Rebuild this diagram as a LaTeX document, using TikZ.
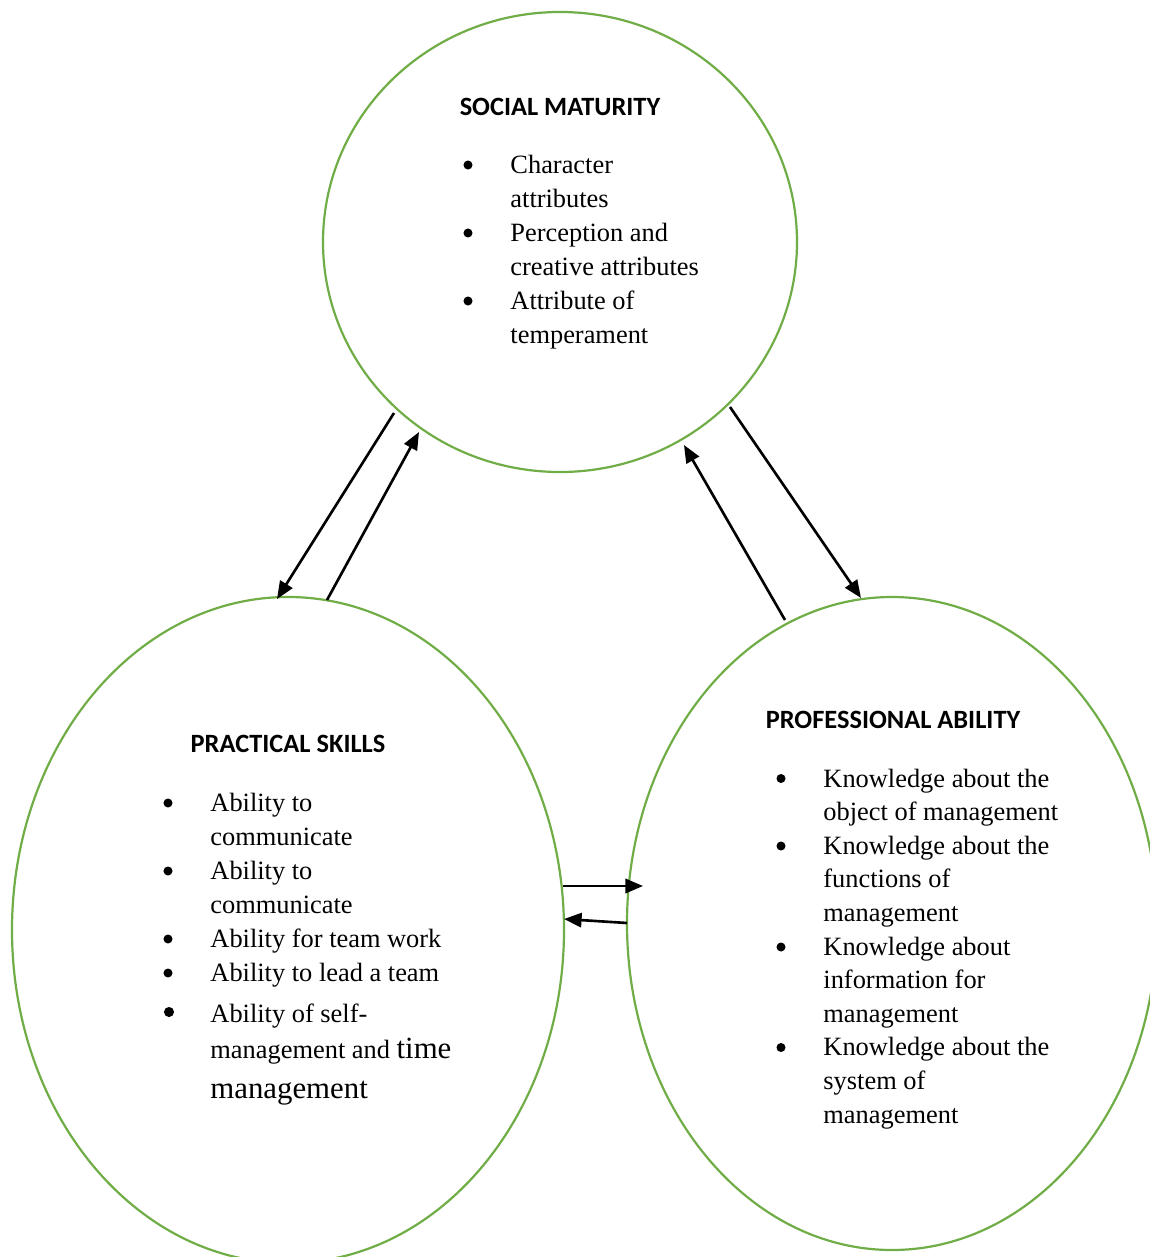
\documentclass[tikz,border=0pt]{standalone}
\usepackage{fontspec}
\setmainfont{Liberation Serif}
\newfontfamily\headfont{Carlito}
\usetikzlibrary{arrows.meta,shapes.geometric}
\definecolor{ringgreen}{RGB}{112,173,71}
\begin{document}
\begin{tikzpicture}[x=0.4545pt,y=-0.4545pt,
  ring/.style={ellipse,draw=ringgreen,line width=1pt,inner sep=0pt},
  head/.style={font=\headfont\bfseries\fontsize{12}{14}\selectfont,inner sep=0pt,anchor=base},
  item/.style={font=\fontsize{12}{14}\selectfont,inner sep=0pt,anchor=base west},
  dot/.style={circle,fill=black,inner sep=0pt,minimum size=4.1pt},
  bigdot/.style={circle,fill=black,inner sep=0pt,minimum size=4.6pt},
  link/.style={line width=1.2pt,-{Triangle[length=8pt,width=6.5pt]}}]
\useasboundingbox (0,0) rectangle (1150,1257);

% rings
\node[ring,minimum width={474*0.4545pt},minimum height={460*0.4545pt}] (social) at (560,242) {};
\node[ring,minimum width={552*0.4545pt},minimum height={666*0.4545pt}] (practical) at (288,930) {};
\node[ring,minimum width={530*0.4545pt},minimum height={653*0.4545pt}] (professional) at (892,923.5) {};

% social maturity
\node[head] (h1) at (560,115) {SOCIAL MATURITY};
\node[dot] (s1b) at (468,165) {};
\node[item] (s1a) at (510,173) {Character};
\node[item] (s1c) at (510,207) {attributes};
\node[dot] (s2b) at (468,233) {};
\node[item] (s2a) at (510,241) {Perception and};
\node[item] (s2c) at (510,275) {creative attributes};
\node[dot] (s3b) at (468,301) {};
\node[item] (s3a) at (510,309) {Attribute of};
\node[item] (s3c) at (510,343) {temperament};

% practical skills
\node[head] (h2) at (288,752) {PRACTICAL SKILLS};
\node[dot] (p1b) at (168,803) {};
\node[item] (p1a) at (210,811) {Ability to};
\node[item] (p1c) at (210,845) {communicate};
\node[dot] (p2b) at (168,871) {};
\node[item] (p2a) at (210,879) {Ability to};
\node[item] (p2c) at (210,913) {communicate};
\node[dot] (p3b) at (168,939) {};
\node[item] (p3a) at (210,947) {Ability for team work};
\node[dot] (p4b) at (168,973) {};
\node[item] (p4a) at (210,981) {Ability to lead a team};
\node[bigdot] (p5b) at (169,1012) {};
\node[item] (p5a) at (210,1022) {Ability of self-};
\node[item] (p5c) at (210,1058) {management and {\fontsize{14}{16}\selectfont time}};
\node[item,font=\fontsize{14}{16}\selectfont] (p5d) at (210,1098) {management};

% professional ability
\node[head] (h3) at (893,728) {PROFESSIONAL ABILITY};
\node[dot] (r1b) at (781,778.5) {};
\node[item] (r1a) at (823,787) {Knowledge about the};
\node[item] (r1c) at (823,820.6) {object of management};
\node[dot] (r2b) at (781,846) {};
\node[item] (r2a) at (823,854.2) {Knowledge about the};
\node[item] (r2c) at (823,887.8) {functions of};
\node[item] (r2d) at (823,921.4) {management};
\node[dot] (r3b) at (781,947) {};
\node[item] (r3a) at (823,955) {Knowledge about};
\node[item] (r3c) at (823,988.6) {information for};
\node[item] (r3d) at (823,1022.2) {management};
\node[dot] (r4b) at (781,1047.5) {};
\node[item] (r4a) at (823,1055.8) {Knowledge about the};
\node[item] (r4c) at (823,1089.4) {system of};
\node[item] (r4d) at (823,1123) {management};

% arrow end points
\coordinate (a1s) at (394,413);
\coordinate (a1e) at (277,599);
\coordinate (a2s) at (327,600);
\coordinate (a2e) at (419,432);
\coordinate (a3s) at (730,407);
\coordinate (a3e) at (861,598);
\coordinate (a4s) at (785,620);
\coordinate (a4e) at (684,445);
\coordinate (a5s) at (563,886);
\coordinate (a5e) at (643,886);
\coordinate (a6s) at (627,923);
\coordinate (a6e) at (564,919);

\draw[link] (a1s) -- (a1e);
\draw[link] (a2s) -- (a2e);
\draw[link] (a3s) -- (a3e);
\draw[link] (a4s) -- (a4e);
\draw[link] (a5s) -- (a5e);
\draw[link] (a6s) -- (a6e);
\end{tikzpicture}
\end{document}
